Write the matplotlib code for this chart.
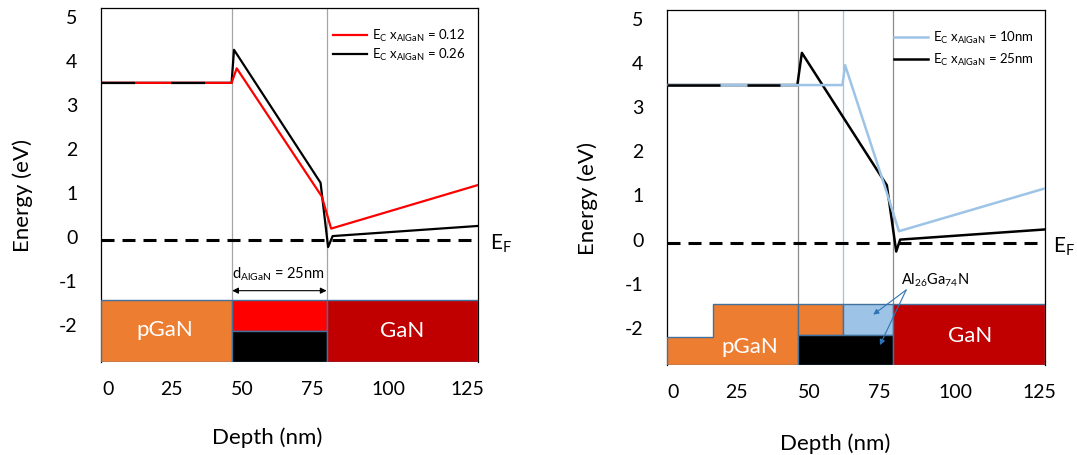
import matplotlib
matplotlib.use("Agg")
import matplotlib.pyplot as plt
from matplotlib.patches import Rectangle, Polygon

plt.rcParams['font.family'] = ['Lato', 'DejaVu Sans']
plt.rcParams['mathtext.fontset'] = 'custom'
plt.rcParams['mathtext.rm'] = 'Lato'
plt.rcParams['lines.scale_dashes'] = False

# ---- data (depth in nm, energy in eV) ----
left_x_red = [0, 43.3, 45.0, 73.2, 76.3, 125]
left_y_red = [3.5, 3.5, 3.83, 0.92, 0.19, 1.18]
left_x_blk = [0, 43.3, 44.1, 72.8, 75.3, 76.8, 125]
left_y_blk = [3.5, 3.5, 4.25, 1.23, -0.23, 0.02, 0.25]

right_x_blue = [0, 58.0, 58.9, 72.7, 76.7, 125]
right_y_blue = [3.5, 3.5, 3.95, 1.06, 0.19, 1.16]
right_x_blk = [0, 43.1, 44.6, 72.7, 75.8, 77.1, 125]
right_y_blk = [3.5, 3.5, 4.23, 1.23, -0.27, 0.0, 0.23]

e_fermi = -0.07
ytick_vals = [5, 4, 3, 2, 1, 0, -1, -2]
xtick_labels = ['0', '25', '50', '75', '100', '125']
left_xtick_pos = [2.3, 23.2, 46.8, 70.0, 95.2, 121.4]
right_xtick_pos = [2.0, 23.1, 46.9, 70.1, 95.5, 123.3]

# layer boundaries (nm)
left_layers = [0, 43.5, 74.8, 125]
right_layers = [0, 15.2, 43.3, 58.2, 74.7, 125]

ORANGE = '#ED7D31'
DKRED = '#C00000'
RED = '#FF0000'
LBLUE = '#9DC3E6'
EDGE = '#41719C'
YMIN, YMAX = -2.84, 5.2

PX = 0.72  # px -> pt at dpi 100

fig = plt.figure(figsize=(10.77, 4.55), dpi=100)
axL = fig.add_axes([101 / 1077, 1 - 362 / 455, 377 / 1077, 354 / 455])
axR = fig.add_axes([667 / 1077, 1 - 365 / 455, 378 / 1077, 355 / 455])


def style_axis(ax, xpos, ef_x):
    ax.set_xlim(0, 125)
    ax.set_ylim(YMIN, YMAX)
    ax.set_yticks(ytick_vals)
    ax.set_yticklabels([str(v) for v in ytick_vals], fontsize=14)
    ax.set_xticks(xpos)
    ax.set_xticklabels(xtick_labels, fontsize=14)
    ax.tick_params(axis='both', length=0)
    ax.tick_params(axis='y', pad=17)
    ax.tick_params(axis='x', pad=14)
    for s in ax.spines.values():
        s.set_linewidth(0.9)
        s.set_color('black')
    ax.spines['bottom'].set_visible(False)
    ax.set_ylabel('Energy (eV)', fontsize=16)
    ax.set_xlabel('Depth (nm)', fontsize=16)
    ax.axhline(e_fermi, color='black', lw=2.2, dashes=(13 * PX, 8 * PX), zorder=2)
    ax.text(ef_x, e_fermi - 0.08, r'E$_{\mathregular{F}}$', fontsize=15,
            ha='left', va='center', clip_on=False)


# ---------------- left panel ----------------
style_axis(axL, left_xtick_pos, 129.0)
axL.yaxis.set_label_coords(-0.18, 0.47)
axL.xaxis.set_label_coords(0.44, -0.184)
band_top_L = -1.43
band_mid_L = -2.14
for xv in left_layers[1:3]:
    axL.plot([xv, xv], [band_top_L, YMAX], color='#A6A6A6', lw=0.9, zorder=1)

axL.plot(left_x_blk, left_y_blk, color='black', lw=1.6, zorder=3,
         label=r'E$_{\mathregular{C}}$ x$_{\mathregular{AlGaN}}$ = 0.26')
axL.plot(left_x_red, left_y_red, color=RED, lw=1.6, zorder=4,
         label=r'E$_{\mathregular{C}}$ x$_{\mathregular{AlGaN}}$ = 0.12')
axL.plot(left_x_blk[:2], left_y_blk[:2], color='black', lw=1.6, zorder=5,
         linestyle=(0, (34 * PX, 36 * PX, 34 * PX, 200)))

axL.add_patch(Rectangle((left_layers[0], YMIN), left_layers[1] - left_layers[0],
                        band_top_L - YMIN, fc=ORANGE, ec=EDGE, lw=1, zorder=6))
axL.add_patch(Rectangle((left_layers[1], band_mid_L), left_layers[2] - left_layers[1],
                        band_top_L - band_mid_L, fc=RED, ec=EDGE, lw=1, zorder=6))
axL.add_patch(Rectangle((left_layers[1], YMIN), left_layers[2] - left_layers[1],
                        band_mid_L - YMIN, fc='black', ec=EDGE, lw=1, zorder=6))
axL.add_patch(Rectangle((left_layers[2], YMIN), left_layers[3] - left_layers[2],
                        band_top_L - YMIN, fc=DKRED, ec=EDGE, lw=1, zorder=6))
axL.text(21.2, -2.12, 'pGaN', color='white', fontsize=16, ha='center', va='center', zorder=7)
axL.text(99.8, -2.14, 'GaN', color='white', fontsize=16, ha='center', va='center', zorder=7)

axL.annotate('', xy=(left_layers[1], -1.22), xytext=(left_layers[2], -1.22),
             arrowprops=dict(arrowstyle='<|-|>', color='black', lw=0.8,
                             mutation_scale=9, shrinkA=0, shrinkB=0))
axL.text(58.7, -0.84, r'd$_{\mathregular{AlGaN}}$ = 25nm', fontsize=10.5,
         ha='center', va='center')

h, l = axL.get_legend_handles_labels()
axL.legend(h[::-1], l[::-1], loc='upper left', bbox_to_anchor=(0.615, 0.945),
           frameon=False, fontsize=9.5, handlelength=2.6, handletextpad=0.4,
           labelspacing=0.25, borderpad=0, borderaxespad=0)

# ---------------- right panel ----------------
style_axis(axR, right_xtick_pos, 127.8)
axR.yaxis.set_label_coords(-0.183, 0.47)
axR.xaxis.set_label_coords(0.444, -0.194)
band_top_R = -1.45
band_step_R = -2.2
band_mid_R = -2.16
axR.plot([right_layers[2]] * 2, [band_top_R, YMAX], color='#8C8C8C', lw=0.9, zorder=1)
axR.plot([right_layers[4]] * 2, [band_top_R, YMAX], color='#8C8C8C', lw=0.9, zorder=1)
axR.plot([right_layers[3]] * 2, [band_top_R, YMAX], color=LBLUE, lw=0.9, zorder=1)

axR.plot(right_x_blk, right_y_blk, color='black', lw=1.8, zorder=3,
         label=r'E$_{\mathregular{C}}$ x$_{\mathregular{AlGaN}}$ = 25nm')
axR.plot(right_x_blue, right_y_blue, color=LBLUE, lw=1.8, zorder=4,
         label=r'E$_{\mathregular{C}}$ x$_{\mathregular{AlGaN}}$ = 10nm')
axR.plot(right_x_blk[:2], right_y_blk[:2], color='black', lw=1.8, zorder=5,
         linestyle=(0, (53 * PX, 27 * PX, 33 * PX, 200)))

pgan_pts = [(right_layers[0], YMIN), (right_layers[2], YMIN),
            (right_layers[2], band_top_R), (right_layers[1], band_top_R),
            (right_layers[1], band_step_R), (right_layers[0], band_step_R)]
axR.add_patch(Polygon(pgan_pts, closed=True, fc=ORANGE, ec=EDGE, lw=1, zorder=6))
axR.add_patch(Rectangle((right_layers[2], band_mid_R), right_layers[3] - right_layers[2],
                        band_top_R - band_mid_R, fc=ORANGE, ec=EDGE, lw=1, zorder=6))
axR.add_patch(Rectangle((right_layers[3], band_mid_R), right_layers[4] - right_layers[3],
                        band_top_R - band_mid_R, fc=LBLUE, ec=EDGE, lw=1, zorder=6))
axR.add_patch(Rectangle((right_layers[2], YMIN), right_layers[4] - right_layers[2],
                        band_mid_R - YMIN, fc='black', ec=EDGE, lw=1, zorder=6))
axR.add_patch(Rectangle((right_layers[4], YMIN), right_layers[5] - right_layers[4],
                        band_top_R - YMIN, fc=DKRED, ec=EDGE, lw=1, zorder=6))
axR.text(27.4, -2.43, 'pGaN', color='white', fontsize=16, ha='center', va='center', zorder=7)
axR.text(100.4, -2.18, 'GaN', color='white', fontsize=16, ha='center', va='center', zorder=7)

axR.text(88.6, -0.91, r'Al$_{\mathregular{26}}$Ga$_{\mathregular{74}}$N', fontsize=10.5,
         ha='center', va='center')
for tx, ty in [(68.2, -1.70), (70.4, -2.39)]:
    axR.annotate('', xy=(tx, ty), xytext=(79.1, -1.14), zorder=8,
                 arrowprops=dict(arrowstyle='-|>', color='#2E75B6', lw=0.8,
                                 mutation_scale=8, shrinkA=0, shrinkB=0))

h, l = axR.get_legend_handles_labels()
axR.legend(h[::-1], l[::-1], loc='upper left', bbox_to_anchor=(0.6, 0.945),
           frameon=False, fontsize=9.5, handlelength=2.6, handletextpad=0.4,
           labelspacing=0.45, borderpad=0, borderaxespad=0)

fig.savefig('out.png', dpi=100)
